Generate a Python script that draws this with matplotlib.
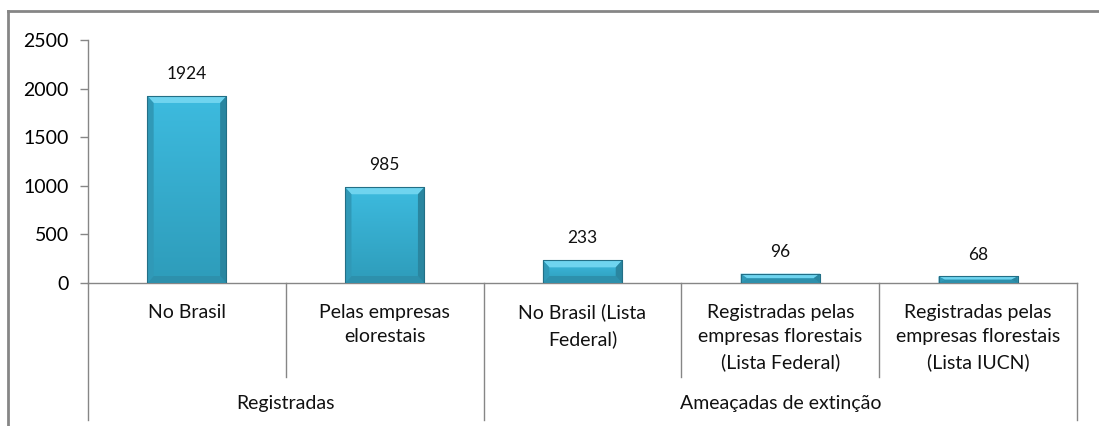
import matplotlib.pyplot as plt
import matplotlib.colors as mcolors
from matplotlib.patches import Polygon
import numpy as np

plt.rcParams['font.family'] = ['Lato', 'DejaVu Sans']

categories = ['No Brasil', 'Pelas empresas\nelorestais', 'No Brasil (Lista\nFederal)',
              'Registradas pelas\nempresas florestais\n(Lista Federal)',
              'Registradas pelas\nempresas florestais\n(Lista IUCN)']
values = [1924, 985, 233, 96, 68]
groups = ['Registradas', 'Ameaçadas de extinção']
group_sizes = [2, 3]
yticks = [0, 500, 1000, 1500, 2000, 2500]

W, H = 1099, 426
fig = plt.figure(figsize=(W / 100, H / 100), dpi=100)
ax = fig.add_axes([88 / W, (H - 283) / H, (1077 - 88) / W, 243 / H])

gray = '#868686'
x = np.arange(len(values))
bars = ax.bar(x, values, width=0.40, color='#36b0d3', zorder=2)

ax.set_xlim(-0.5, len(values) - 0.5)
ax.set_ylim(0, 2500)
ax.set_yticks(yticks)
ax.tick_params(axis='y', length=6, width=1, color=gray, labelsize=14, pad=8)
ax.set_xticks([])
for s in ['top', 'right']:
    ax.spines[s].set_visible(False)
ax.spines['left'].set_color(gray)
ax.spines['bottom'].set_color(gray)
ax.spines['left'].set_linewidth(1)
ax.spines['bottom'].set_linewidth(1)

# bevelled bars: gradient fill plus light top / darker side edges
grad = mcolors.LinearSegmentedColormap.from_list('g', ['#2e9cba', '#3dbbdf'])
px_y = 2500 / 243
for b in bars:
    x0, w, h = b.get_x(), b.get_width(), b.get_height()
    im = ax.imshow(np.linspace(0, 1, 100).reshape(-1, 1), cmap=grad, origin='lower',
                   extent=[x0, x0 + w, 0, h], aspect='auto', zorder=2)
    im.set_clip_path(b)
    bx = 0.032
    by = min(7 * px_y, h / 2)
    x1 = x0 + w
    top = Polygon([[x0, h], [x1, h], [x1 - bx, h - by], [x0 + bx, h - by]],
                  closed=True, color='#6fd4ef', lw=0, zorder=3)
    bot = Polygon([[x0, 0], [x1, 0], [x1 - bx, by], [x0 + bx, by]],
                  closed=True, color='#2d90ac', lw=0, zorder=3)
    left = Polygon([[x0, 0], [x0, h], [x0 + bx, h - by], [x0 + bx, by]],
                   closed=True, color='#3099b7', lw=0, zorder=3)
    right = Polygon([[x1, 0], [x1, h], [x1 - bx, h - by], [x1 - bx, by]],
                    closed=True, color='#2a86a0', lw=0, zorder=3)
    for p in (top, bot, left, right):
        ax.add_patch(p)
    ax.plot([x0, x0, x1, x1], [0, h, h, 0], color='#236f86', lw=0.8, zorder=4)
    ax.annotate(f'{int(h)}', (x0 + w / 2, h), xytext=(0, 10), textcoords='offset points',
                ha='center', va='bottom', fontsize=12.5, color='#111111')

# category labels and separators below the axis
tr = ax.get_xaxis_transform()
for i, c in enumerate(categories):
    ax.text(i, -0.085, c, transform=tr, ha='center', va='top', fontsize=14,
            linespacing=1.55, color='#111111')

edges = []
start = 0
for g, n in zip(groups, group_sizes):
    edges.append(start - 0.5)
    for k in range(start + 1, start + n):
        ax.plot([k - 0.5, k - 0.5], [0, -0.387], transform=tr, color=gray, lw=1, clip_on=False)
    ax.text(start + (n - 1) / 2, -0.494, g, transform=tr, ha='center', va='center',
            fontsize=14, color='#111111')
    start += n
edges.append(start - 0.5)
for e in edges:
    ax.plot([e, e], [0, -0.564], transform=tr, color=gray, lw=1, clip_on=False)

# chart frame
fig.add_artist(plt.Line2D([8 / W, 8 / W], [0, (H - 11) / H], color=gray, lw=2))
fig.add_artist(plt.Line2D([8 / W, 1], [(H - 11) / H, (H - 11) / H], color=gray, lw=2))

fig.savefig('out.png', dpi=100)
